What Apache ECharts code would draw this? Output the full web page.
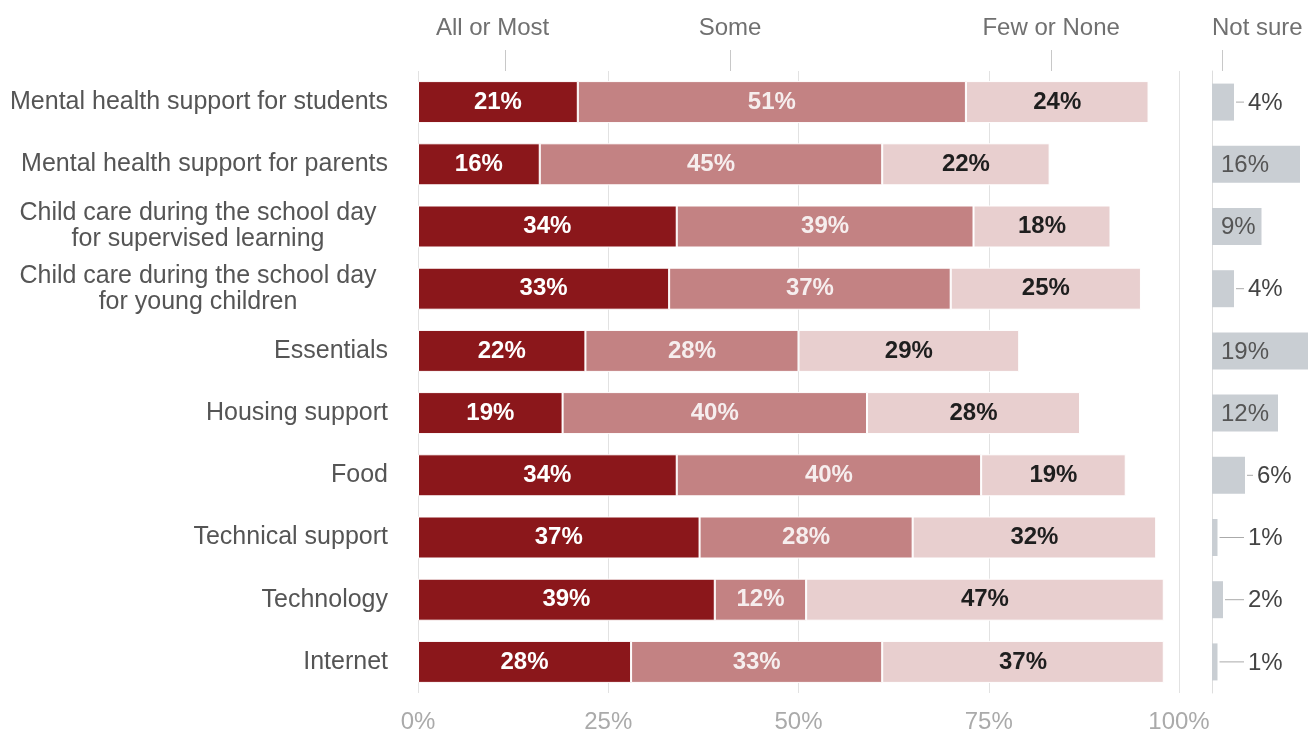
<!DOCTYPE html>
<html><head><meta charset="utf-8">
<script src="https://cdn.jsdelivr.net/npm/echarts@6/dist/echarts.min.js"></script>
<style>html,body{margin:0;padding:0;background:#fff}#c{width:1308px;height:735px}</style>
</head><body><div id="c"></div>
<script>
const categories = [
  'Mental health support for students',
  'Mental health support for parents',
  'Child care during the school day\nfor supervised learning',
  'Child care during the school day\nfor young children',
  'Essentials',
  'Housing support',
  'Food',
  'Technical support',
  'Technology',
  'Internet'
];
const allOrMost = [21, 16, 34, 33, 22, 19, 34, 37, 39, 28];
const some      = [51, 45, 39, 37, 28, 40, 40, 28, 12, 33];
const fewOrNone = [24, 22, 18, 25, 29, 28, 19, 32, 47, 37];
const notSure   = [4, 16, 9, 4, 19, 12, 6, 1, 2, 1];
const xTickValues = [0, 25, 50, 75, 100];
const headerLabels = ['All or Most', 'Some', 'Few or None'];
const headerTickValues = [11.4, 41, 83.2];
const headerLabelValues = [9.8, 41, 83.2];
const notSureHeader = 'Not sure';
const notSureTickValue = [1.8];

const FONT = "'Liberation Sans', Arial, sans-serif";
const chart = echarts.init(document.getElementById('c'), null, {renderer: 'canvas'});

function catFormatter(v) {
  if (v.indexOf('\n') >= 0) {
    return v.split('\n').map(s => '{c|' + s + '}').join('\n');
  }
  return v;
}

const barLabel = (color) => ({
  show: true, position: 'inside', formatter: '{c}%',
  color: color, fontFamily: FONT, fontSize: 24, fontWeight: 'bold'
});

// right panel: 5.5 px per percentage point, grid limited to the canvas edge
const NS_PX_PER_PCT = 5.5;
const NS_LEFT = 1212;
const NS_WIDTH = 1308 - NS_LEFT;

const option = {
  animation: false,
  backgroundColor: '#fff',
  textStyle: {fontFamily: FONT},
  grid: [
    {left: 418, width: 761, top: 71, height: 622, containLabel: false, outerBoundsMode: 'none'},
    {left: NS_LEFT, width: NS_WIDTH, top: 71, height: 622, containLabel: false, outerBoundsMode: 'none'}
  ],
  xAxis: [
    {
      gridIndex: 0, type: 'value', min: 0, max: 100, interval: 25, position: 'bottom',
      axisLine: {show: false}, axisTick: {show: false},
      splitLine: {show: true, lineStyle: {color: '#e2e2e2', width: 1}},
      axisLabel: {formatter: '{value}%', color: '#aaaaaa', fontSize: 24, fontFamily: FONT, margin: 17,
        customValues: xTickValues}
    },
    {
      gridIndex: 0, type: 'value', min: 0, max: 100, position: 'top',
      axisLine: {show: false},
      splitLine: {show: false},
      axisTick: {show: true, length: 21, lineStyle: {color: '#c8c8c8'}, customValues: headerTickValues},
      axisLabel: {show: true, color: '#707070', fontSize: 24, fontFamily: FONT, margin: 31,
        customValues: headerLabelValues,
        formatter: (v, i) => headerLabels[headerLabelValues.indexOf(v)] || headerLabels[i] || ''}
    },
    {
      gridIndex: 1, type: 'value', min: 0, max: NS_WIDTH / NS_PX_PER_PCT, position: 'bottom',
      axisLine: {show: false}, axisTick: {show: false}, axisLabel: {show: false},
      splitLine: {show: false}
    },
    {
      gridIndex: 1, type: 'value', min: 0, max: NS_WIDTH / NS_PX_PER_PCT, position: 'top',
      axisLine: {show: false}, splitLine: {show: false},
      axisTick: {show: true, length: 21, lineStyle: {color: '#c8c8c8'}, customValues: notSureTickValue},
      axisLabel: {show: true, color: '#707070', fontSize: 24, fontFamily: FONT, margin: 31, align: 'left',
        customValues: [0], formatter: () => notSureHeader}
    }
  ],
  yAxis: [
    {
      gridIndex: 0, type: 'category', data: categories, inverse: true,
      axisLine: {show: false}, axisTick: {show: false}, splitLine: {show: false},
      axisLabel: {
        color: '#555555', fontSize: 25, fontFamily: FONT, margin: 30, lineHeight: 26,
        formatter: catFormatter,
        rich: {c: {width: 380, align: 'center', fontSize: 25, fontFamily: FONT, color: '#555555', lineHeight: 26}}
      }
    },
    {
      gridIndex: 1, type: 'category', data: categories, inverse: true,
      axisLine: {show: true, lineStyle: {color: '#dddddd', width: 1}},
      axisTick: {show: false}, axisLabel: {show: false}, splitLine: {show: false}
    }
  ],
  series: [
    {
      name: 'All or Most', type: 'bar', stack: 'a', xAxisIndex: 0, yAxisIndex: 0,
      data: allOrMost, barWidth: 42,
      itemStyle: {color: '#8b171b', borderColor: '#ffffff', borderWidth: 1},
      label: barLabel('#ffffff')
    },
    {
      name: 'Some', type: 'bar', stack: 'a', xAxisIndex: 0, yAxisIndex: 0,
      data: some, barWidth: 42,
      itemStyle: {color: '#c38283', borderColor: '#ffffff', borderWidth: 1},
      label: barLabel('#f6eeee')
    },
    {
      name: 'Few or None', type: 'bar', stack: 'a', xAxisIndex: 0, yAxisIndex: 0,
      data: fewOrNone, barWidth: 42,
      itemStyle: {color: '#e8cfcf', borderColor: '#ffffff', borderWidth: 1},
      label: barLabel('#1e1e1e')
    },
    {
      name: 'Not sure', type: 'custom', xAxisIndex: 2, yAxisIndex: 1,
      data: notSure.map((v, i) => [v, i]),
      encode: {x: 0, y: 1},
      clip: false,
      renderItem: function (params, api) {
        const v = api.value(0);
        const idx = api.value(1);
        const s = api.coord([0, idx]);
        const e = api.coord([v, idx]);
        const h = 37;
        const children = [{
          type: 'rect',
          shape: {x: s[0], y: s[1] - h / 2, width: e[0] - s[0], height: h},
          style: {fill: '#c9ced3'}
        }];
        if (v >= 9) {
          children.push({
            type: 'text',
            style: {text: v + '%', x: s[0] + 9, y: s[1] + 1, align: 'left', verticalAlign: 'middle',
              fill: '#555555', font: '24px ' + FONT}
          });
        } else {
          const lx = Math.max(e[0] + 12, s[0] + 36);
          children.push({
            type: 'line',
            shape: {x1: e[0] + 2, y1: s[1], x2: lx - 4, y2: s[1]},
            style: {stroke: '#aaaaaa', lineWidth: 1}
          });
          children.push({
            type: 'text',
            style: {text: v + '%', x: lx, y: s[1] + 1, align: 'left', verticalAlign: 'middle',
              fill: '#444444', font: '24px ' + FONT}
          });
        }
        return {type: 'group', children: children};
      }
    }
  ]
};
chart.setOption(option);
</script>
</body></html>
